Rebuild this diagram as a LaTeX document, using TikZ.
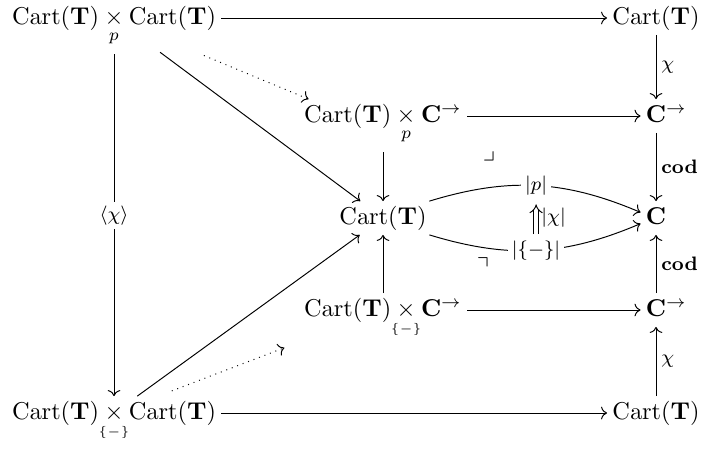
\documentclass[tikz,border=0pt]{standalone}
\usepackage{amsmath,amssymb,mathtools}
\usetikzlibrary{arrows.meta}
\begin{document}
\begin{tikzpicture}[x=0.411pt,y=-0.411pt]
\tikzstyle{obj}=[inner sep=2pt, text height=1.7ex, text depth=0.5ex]
\tikzstyle{lab}=[font=\footnotesize, inner sep=2pt]
\tikzstyle{desc}=[font=\footnotesize, fill=white, inner sep=1.5pt]
    \useasboundingbox (0,0) rectangle (703,450);

    \node[obj] (tl) at (114,18) {$\mathrm{Cart}(\mathbf{T})\mathbin{\underset{p}{\times}}\mathrm{Cart}(\mathbf{T})$};
    \node[obj] (tr) at (656,18) {$\mathrm{Cart}(\mathbf{T})$};
    \node[obj] (a) at (383,116) {$\mathrm{Cart}(\mathbf{T})\mathbin{\underset{p}{\times}}\mathbf{C}^{\to}$};
    \node[obj] (ct) at (656,116) {$\mathbf{C}\rlap{$^{\to}$}$};
    \node[obj] (mc) at (383,218) {$\mathrm{Cart}(\mathbf{T})$};
    \node[obj] (c) at (656,218) {$\mathbf{C}$};
    \node[obj] (b) at (383,310) {$\mathrm{Cart}(\mathbf{T})\mathbin{\underset{\mathclap{\scriptscriptstyle\{-\}}}{\times}}\mathbf{C}^{\to}$};
    \node[obj] (cb) at (656,310) {$\mathbf{C}\rlap{$^{\to}$}$};
    \node[obj] (bl) at (114,413) {$\mathrm{Cart}(\mathbf{T})\mathbin{\underset{\mathclap{\scriptscriptstyle\{-\}}}{\times}}\mathrm{Cart}(\mathbf{T})$};
    \node[obj] (br) at (656,413) {$\mathrm{Cart}(\mathbf{T})$};
    \node (pb1) at (489,156) {$\lrcorner$};
    \node (pb2) at (483,266) {$\urcorner$};

    \draw[->] (tl) -- (tr);
    \draw[->] (tr) -- node[lab,right] {$\chi$} (ct);
    \draw[->] (ct) -- node[lab,right] {$\mathbf{cod}$} (c);
    \draw[->] (cb) -- node[lab,right] {$\mathbf{cod}$} (c);
    \draw[->] (br) -- node[lab,right] {$\chi$} (cb);
    \draw[->] (bl) -- (br);

    \draw[->] (a) -- (ct);
    \draw[->] (b) -- (cb);
    \draw[->,shorten <=8pt] (a) -- (mc);
    \draw[->] (b) -- (mc);

    \draw[->,shorten <=12pt] (tl) -- (mc);
    \draw[->] (bl) -- (mc);
    \draw[->,shorten <=8pt] (tl) -- node[desc] {$\langle\chi\rangle$} (bl);
    \draw[->,dotted,shorten <=22pt] (tl) -- ([xshift=4pt]a.north west);
    \draw[->,dotted,shorten <=6pt,shorten >=24pt] (bl) -- (b);

    \draw[->] (mc) to[bend left=20] node[desc] (up) {$|p|$} (c);
    \draw[->] (mc) to[bend right=20] node[desc] (dn) {$|\{-\}|$} (c);
    \draw[-Implies,double,double distance=1.5pt,shorten <=1pt,shorten >=2pt] (dn) -- node[lab,right] {$|\chi|$} (up);

\end{tikzpicture}
\end{document}
